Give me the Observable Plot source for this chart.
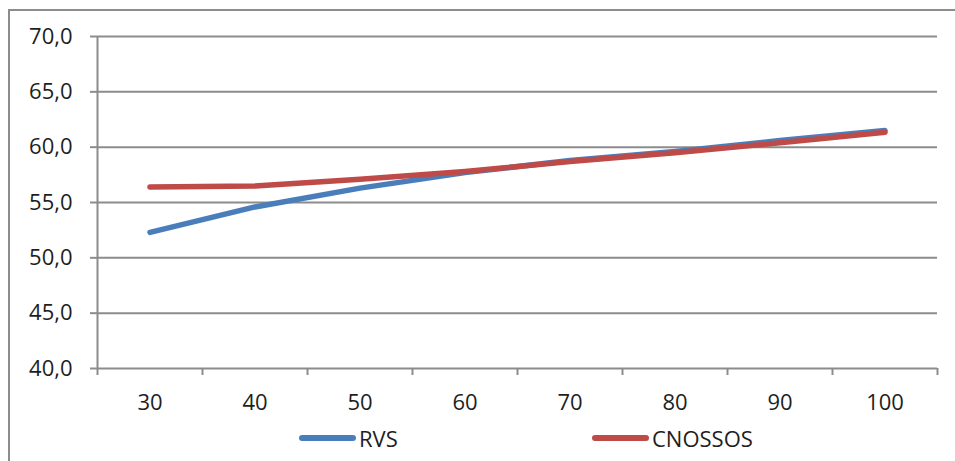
<!DOCTYPE html>
<html>
<head>
<meta charset="utf-8">
<script src="https://cdn.jsdelivr.net/npm/d3@7"></script>
<script src="https://cdn.jsdelivr.net/npm/@observablehq/plot@0.6"></script>
<style>
  html, body { margin: 0; padding: 0; background: #fff; }
  #wrap { position: relative; width: 955px; height: 461px; overflow: hidden; font-family: "Open Sans", sans-serif; }
  #chart { position: absolute; left: 0; top: 0; }
  #frame { position: absolute; left: 8px; top: 9px; width: 960px; height: 470px; border-left: 2px solid #8c8c8c; border-top: 2px solid #8c8c8c; pointer-events: none; }
  .leg { position: absolute; top: 423px; display: flex; align-items: center; font-size: 22px; color: #1e1e1e; }
  .sw { width: 57px; height: 5.5px; border-radius: 3px; margin-right: 3px; }
</style>
</head>
<body>
<div id="wrap">
  <div id="chart"></div>
  <div id="frame"></div>
  <div class="leg" style="left:299px"><div class="sw" style="background:#4a7ebb"></div><span>RVS</span></div>
  <div class="leg" style="left:592px"><div class="sw" style="background:#be4b48"></div><span>CNOSSOS</span></div>
</div>
<script>
const categories = [30, 40, 50, 60, 70, 80, 90, 100];
const rvs = [52.3, 54.6, 56.3, 57.7, 58.8, 59.6, 60.6, 61.5];
const cnossos = [56.4, 56.5, 57.1, 57.8, 58.7, 59.5, 60.4, 61.35];
const yTicks = [40, 45, 50, 55, 60, 65, 70];
const seriesNames = ["RVS", "CNOSSOS"];
const seriesColors = ["#4a7ebb", "#be4b48"];

const data = [];
categories.forEach((c, i) => data.push({x: c, y: rvs[i], s: seriesNames[0]}));
categories.forEach((c, i) => data.push({x: c, y: cnossos[i], s: seriesNames[1]}));
const bounds = categories.map(c => c - 5).concat([categories[categories.length - 1] + 5]);

const fmt = d => d.toFixed(1).replace(".", ",");
const grid = "#8c8c8c";

const chart = Plot.plot({
  width: 955,
  height: 420,
  marginLeft: 97,
  marginRight: 18,
  marginTop: 36,
  marginBottom: 52,
  style: {fontFamily: "Open Sans, sans-serif", fontSize: "22px", color: "#1e1e1e", background: "#fff"},
  x: {type: "linear", domain: [bounds[0], bounds[bounds.length - 1]]},
  y: {domain: [40, 70]},
  color: {domain: seriesNames, range: seriesColors},
  marks: [
    Plot.gridY(yTicks, {stroke: grid, strokeOpacity: 1, strokeWidth: 2}),
    Plot.ruleX([bounds[0]], {stroke: grid, strokeWidth: 2}),
    Plot.axisY(yTicks, {tickSize: 7, tickPadding: 18, tickFormat: fmt, stroke: grid, strokeWidth: 2, fontSize: 22, label: null}),
    Plot.axisX(bounds, {tickSize: 7, tickFormat: () => "", stroke: grid, strokeWidth: 2, label: null}),
    Plot.axisX(categories, {tickSize: 0, tickPadding: 26, tickFormat: d => String(d), fontSize: 22, label: null}),
    Plot.line(data, {x: "x", y: "y", z: "s", stroke: "s", strokeWidth: 5.5, strokeLinecap: "round", strokeLinejoin: "round"})
  ]
});
document.getElementById("chart").appendChild(chart);
</script>
</body>
</html>
